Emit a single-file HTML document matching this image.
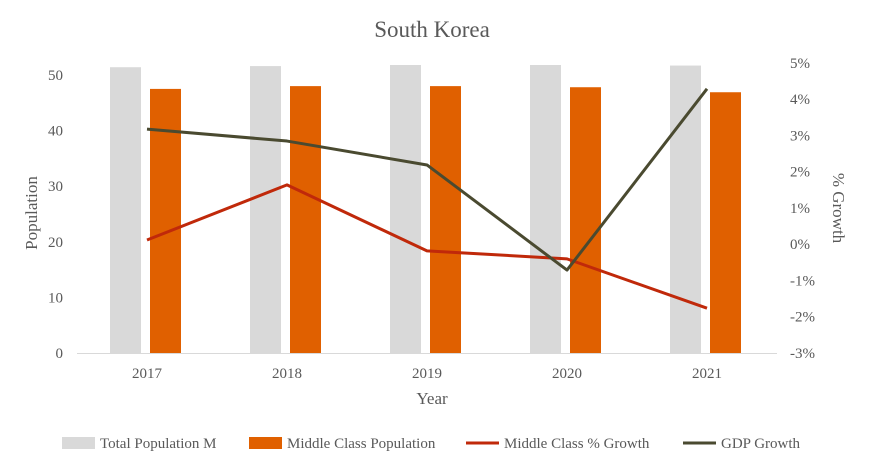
<!DOCTYPE html>
<html><head><meta charset="utf-8"><style>
body{margin:0;background:#fff;}
svg text{font-family:"Liberation Serif",serif;fill:#595959;}
</style></head><body>
<svg id="chart" width="870" height="468" viewBox="0 0 870 468" xmlns="http://www.w3.org/2000/svg">
<text x="432" y="37" font-size="23" text-anchor="middle">South Korea</text>
<g id="grid"></g>
<g id="bars"></g>
<g id="lines"></g>
<g id="axes"></g>
<text transform="translate(37,213) rotate(-90)" font-size="17" text-anchor="middle">Population</text>
<text transform="translate(833,208) rotate(90)" font-size="17" text-anchor="middle">% Growth</text>
<text x="432" y="404" font-size="17" text-anchor="middle">Year</text>
<g id="legend"></g>
</svg>
<script>
const categories=["2017","2018","2019","2020","2021"];
const totalPop=[51.4,51.6,51.8,51.8,51.7];
const middlePop=[47.5,48.0,48.0,47.8,46.9];
const middleGrowth=[0.11,1.63,-0.19,-0.41,-1.77];
const gdpGrowth=[3.17,2.84,2.18,-0.72,4.28];
const leftTicks=[0,10,20,30,40,50];
const rightTicks=[-3,-2,-1,0,1,2,3,4,5];

const NS="http://www.w3.org/2000/svg";
function mk(tag,attrs,parent,text){const e=document.createElementNS(NS,tag);for(const k in attrs)e.setAttribute(k,attrs[k]);if(text!==undefined)e.textContent=text;parent.appendChild(e);return e;}
const x0=77,step=140;
const xc=i=>x0+step*(i+0.5);
const yL=v=>353-v*5.56;
const yR=v=>244-v*36.25;
const axes=document.getElementById('axes'),bars=document.getElementById('bars'),lines=document.getElementById('lines'),legend=document.getElementById('legend');

leftTicks.forEach(t=>{const e=mk('text',{x:63,y:yL(t)+5,'font-size':15,'text-anchor':'end'},axes,String(t));

});
rightTicks.forEach(t=>{const e=mk('text',{x:790,y:yR(t)+5,'font-size':15},axes,t+'%');

});
categories.forEach((c,i)=>{const e=mk('text',{x:xc(i),y:378,'font-size':15,'text-anchor':'middle'},axes,c);


const g=mk('rect',{x:xc(i)-37,y:yL(totalPop[i]),width:31,height:yL(0)-yL(totalPop[i]),fill:'#d9d9d9'},bars);


const o=mk('rect',{x:xc(i)+3,y:yL(middlePop[i]),width:31,height:yL(0)-yL(middlePop[i]),fill:'#e06000'},bars);

});
const base=mk('line',{x1:x0,x2:x0+step*5,y1:353.5,y2:353.5,stroke:'#d9d9d9','stroke-width':1},axes);


function line(vals,color,name){const p=mk('polyline',{points:vals.map((v,i)=>xc(i)+','+yR(v)).join(' '),fill:'none',stroke:color,'stroke-width':3,'stroke-linejoin':'round'},lines);

}
line(middleGrowth,'#c0290a','line-middle-class-growth');
line(gdpGrowth,'#4a4a30','line-gdp-growth');

const items=[["Total Population M","#d9d9d9","rect",62],["Middle Class Population","#e06000","rect",249],["Middle Class % Growth","#c0290a","line",466],["GDP Growth","#4a4a30","line",683]];
items.forEach(it=>{const g=mk('g',{},legend);


if(it[2]==='rect')mk('rect',{x:it[3],y:437,width:33,height:12,fill:it[1]},g);
else mk('line',{x1:it[3],x2:it[3]+33,y1:443,y2:443,stroke:it[1],'stroke-width':3},g);
mk('text',{x:it[3]+38,y:448,'font-size':15},g,it[0]);});
</script>
</body></html>
